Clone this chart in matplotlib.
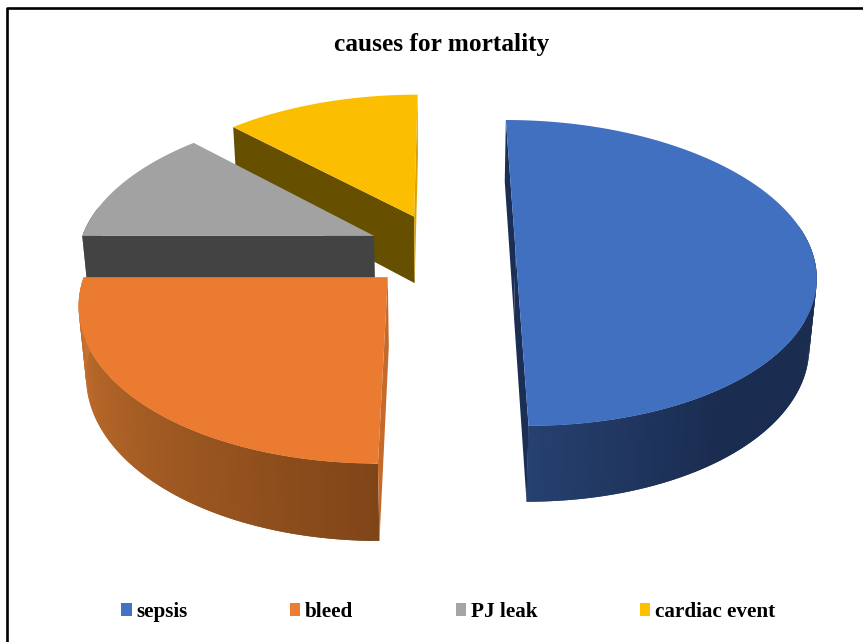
import numpy as np
import matplotlib
matplotlib.use("Agg")
import matplotlib.pyplot as plt
from matplotlib.colors import to_rgb
from matplotlib.patches import Patch
from matplotlib.lines import Line2D

# Chart data
categories = ["sepsis", "bleed", "PJ leak", "cardiac event"]
deaths = [4, 2, 1, 1]

# Slice colours; None marks a flat face turned away from the viewer
top_colors = ["#4270C1", "#EB7B30", "#A2A2A2", "#FCBE00"]
legend_colors = ["#4472C4", "#ED7D31", "#A5A5A5", "#FFC000"]
start_side_colors = ["#1B2E55", "#C56A2A", "#434343", "#665000"]
end_side_colors = ["#1B2E55", None, None, "#D9A300"]

# Rim shading as (clock angle in degrees, colour) stops
rim_stops = [
    [(90, "#1A2C50"), (145, "#1A2C50"), (180, "#26406F")],
    [(180, "#7F4518"), (270, "#CB7430")],
    [(270, "#5F5F5F"), (315, "#5F5F5F")],
    [(315, "#665000"), (360, "#665000")],
]

EXPLODE = 0.25
THICK = 69.5
THICK_W = 0.02
CX, CY = 441.5, 250.0
SCALE_X, SCALE_Y, TILT = 296.0, 149.5, 0.15
RIM_VISIBLE = (80.0, 280.0)


def project(X, Y, lower=False):
    """Perspective projection of a point on the pie's top or bottom plane."""
    w = 1 + TILT * Y + (THICK_W if lower else 0.0)
    drop = THICK if lower else 0.0
    return CX + SCALE_X * X / w, CY + (-SCALE_Y * Y + drop) / w


def rim_color(angle, stops):
    a = [s[0] for s in stops]
    rgb = np.array([to_rgb(s[1]) for s in stops])
    return tuple(np.interp(angle, a, rgb[:, i]) for i in range(3))


fig = plt.figure(figsize=(8.63, 6.42), dpi=100, facecolor="white")
ax = fig.add_axes([0, 0, 1, 1])
ax.set_xlim(0, 863)
ax.set_ylim(642, 0)
ax.axis("off")

total = sum(deaths)
edges = np.concatenate([[0], np.cumsum(deaths)]) / total * 360.0

# Frame around the chart area: left and top sides reach the image edge
ax.add_line(Line2D([7, 7, 863], [642, 7.5, 7.5], color="black", lw=1.9, zorder=1))

for i in [3, 2, 1, 0]:
    a0, a1 = edges[i], edges[i + 1]
    mid = np.radians((a0 + a1) / 2)
    ox, oy = EXPLODE * np.sin(mid), EXPLODE * np.cos(mid)
    angles = np.linspace(a0, a1, int(a1 - a0) + 2)
    rad = np.radians(angles)
    X, Y = ox + np.sin(rad), oy + np.cos(rad)
    z = 2 + (3 - i)

    # Outer rim, shaded strip by strip; each strip overlaps the next so no seams show
    for j in range(len(angles) - 1):
        if not (RIM_VISIBLE[0] <= angles[j] <= RIM_VISIBLE[1]):
            continue
        k = min(j + 2, len(angles) - 1)
        pts = [project(X[j], Y[j]), project(X[k], Y[k]),
               project(X[k], Y[k], True), project(X[j], Y[j], True)]
        col = rim_color((angles[j] + angles[j + 1]) / 2, rim_stops[i])
        ax.fill(*zip(*pts), facecolor=col, edgecolor="none", zorder=z)

    # Flat faces running from the apex out to the rim
    for ang_x, ang_y, col in ((X[0], Y[0], start_side_colors[i]), (X[-1], Y[-1], end_side_colors[i])):
        if col is None:
            continue
        pts = [project(ox, oy), project(ang_x, ang_y),
               project(ang_x, ang_y, True), project(ox, oy, True)]
        ax.fill(*zip(*pts), facecolor=col, edgecolor="none", zorder=z + 0.1)

    # Top face
    tx, ty = project(np.r_[ox, X], np.r_[oy, Y])
    ax.fill(tx, ty, facecolor=top_colors[i], edgecolor="none", zorder=z + 0.5)

ax.text(442, 44.5, "causes for mortality", ha="center", va="center",
        family="Liberation Serif", weight="bold", fontsize=18.3, color="black")

handles = [Patch(facecolor=c, edgecolor="none") for c in legend_colors]
ax.legend(handles, categories, ncol=4, frameon=False, loc="center",
          bbox_to_anchor=(448 / 863, 1 - 612 / 642),
          prop={"family": "Liberation Serif", "weight": "bold", "size": 15.2},
          handlelength=0.5, handleheight=0.5, handletextpad=0.22,
          columnspacing=4.85, borderpad=0)

fig.savefig("out.png", dpi=100, facecolor="white")
